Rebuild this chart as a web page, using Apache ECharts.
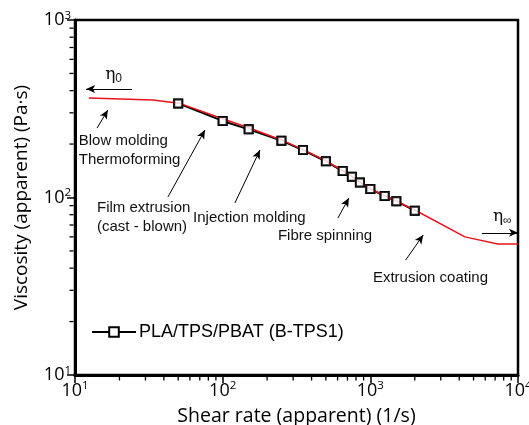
<!DOCTYPE html>
<html>
<head>
<meta charset="utf-8">
<script src="https://cdn.jsdelivr.net/npm/echarts@6/dist/echarts.min.js"></script>
<style>
html,body{margin:0;padding:0;background:#fff;}
#chart{width:529px;height:425px;}
</style>
</head>
<body>
<div id="chart"></div>
<script>
// Measured data (PLA/TPS/PBAT, B-TPS1)
const shearRate = [50, 100, 150, 250, 350, 500, 650, 750, 850, 1000, 1250, 1500, 2000];
const viscosity = [339, 270, 242, 209, 185, 160, 141, 131, 121.5, 111.6, 102, 95.3, 84.3];
// Model fit curve (red)
const fitRate = [12.4, 33.7, 50.6, 100, 150, 250, 350, 500, 650, 750, 850, 1000, 1250, 1500, 2000, 4370, 7300, 10000];
const fitVisc = [364, 354, 340, 278, 247, 211, 186, 161, 141.5, 131.5, 122, 112, 102.5, 95.5, 85, 60, 54.7, 54.7];
// Tick values
const xMinorTicks = [20,30,40,50,60,70,80,90,200,300,400,500,600,700,800,900,2000,3000,4000,5000,6000,7000,8000,9000];
const yMinorTicks = [20,30,40,50,60,70,80,90,200,300,400,500,600,700,800,900];
const seriesName = 'PLA/TPS/PBAT (B-TPS1)';
const xTitle = 'Shear rate (apparent) (1/s)';
const yTitle = 'Viscosity (apparent) (Pa·s)';

// Annotation arrows: [fromX, fromY, toX, toY] in data units
const arrows = [
  [24.3, 408, 11.9, 408],
  [14.1, 246, 16.7, 311],
  [42.6, 100.7, 75.9, 240],
  [121, 93.1, 178.9, 185],
  [603, 76.6, 716, 99.4],
  [1734, 44.4, 2281, 61.5],
  [5695, 63.3, 10000, 63.3]
];
// Annotation texts: [x, y, text] (left-middle anchor, data units)
const notes = [
  [10.6, 208, 'Blow molding'],
  [10.6, 162.7, 'Thermoforming'],
  [14.1, 87.3, 'Film extrusion'],
  [14.1, 68.2, '(cast - blown)'],
  [63, 76.6, 'Injection molding'],
  [236.6, 60.7, 'Fibre spinning'],
  [1041, 35.2, 'Extrusion coating']
];
const etaNotes = [
  [16, 490, '0'],
  [6761, 77.6, '∞']
];

const chart = echarts.init(document.getElementById('chart'));
const axisFont = 'Open Sans';
const expLabel = {
  fontFamily: axisFont,
  color: '#000',
  formatter: v => '{b|10}{s|' + Math.round(Math.log10(v)) + '}',
  rich: {
    b: {fontSize: 18, fontFamily: axisFont, color: '#000'},
    s: {fontSize: 11.5, fontFamily: axisFont, color: '#000', padding: [0, 0, 9, 0]}
  }
};
const toPairs = (xs, ys) => xs.map((x, i) => [x, ys[i]]);
const MINOR_LEN = 4;

chart.setOption({
  animation: false,
  grid: {left: 75, right: 11, top: 20, bottom: 50, show: true, borderColor: '#000', borderWidth: 2.5,
         backgroundColor: 'transparent', containLabel: false, outerBoundsMode: 'none'},
  xAxis: {
    type: 'log', logBase: 10, min: 10, max: 10000,
    name: xTitle, nameLocation: 'middle', nameGap: 31,
    nameTextStyle: {fontFamily: axisFont, fontSize: 19.5, color: '#000'},
    axisLine: {show: true, lineStyle: {color: '#000', width: 3}},
    axisTick: {show: true, inside: false, length: 8, lineStyle: {color: '#000', width: 1.5}},
    axisLabel: Object.assign({margin: 5}, expLabel),
    splitLine: {show: false}
  },
  yAxis: {
    type: 'log', logBase: 10, min: 10, max: 1000,
    name: yTitle, nameLocation: 'middle', nameGap: 44, nameRotate: 90,
    nameTextStyle: {fontFamily: axisFont, fontSize: 19, color: '#000'},
    axisLine: {show: true, lineStyle: {color: '#000', width: 3}},
    axisTick: {show: true, inside: false, length: 8, lineStyle: {color: '#000', width: 1.5}},
    axisLabel: Object.assign({margin: 4}, expLabel),
    splitLine: {show: false}
  },
  legend: {
    data: [seriesName], left: 86, top: 318, itemWidth: 44, itemHeight: 12, itemGap: 4,
    textStyle: {fontFamily: 'Liberation Sans', fontSize: 18, color: '#000', padding: [0,0,0,-2]}
  },
  series: [{
    name: seriesName, type: 'line', z: 2,
    data: toPairs(shearRate, viscosity),
    symbol: 'rect', symbolSize: 8, showSymbol: true,
    lineStyle: {color: '#000', width: 2},
    itemStyle: {color: '#fff', borderColor: '#000', borderWidth: 2},
    emphasis: {disabled: true}
  }, {
    name: 'fit', type: 'line', z: 3,
    data: toPairs(fitRate, fitVisc),
    symbol: 'none',
    lineStyle: {color: '#e8141c', width: 1.5},
    emphasis: {disabled: true},
    markLine: {
      silent: true, symbol: ['none', 'arrow'], symbolSize: [6, 9], precision: 4,
      lineStyle: {color: '#000', width: 1, type: 'solid'},
      label: {show: false},
      data: arrows.map(a => [{coord: [a[0], a[1]]}, {coord: [a[2], a[3]]}])
    }
  }, {
    name: 'points', type: 'scatter', z: 4,
    data: toPairs(shearRate, viscosity),
    symbol: 'rect', symbolSize: 8,
    itemStyle: {color: '#fff', borderColor: '#000', borderWidth: 2},
    emphasis: {disabled: true}
  }, {
    name: 'xMinor', type: 'custom', clip: false, silent: true, z: 5,
    data: xMinorTicks.map(v => [v, 10]),
    renderItem: (params, api) => {
      const p = api.coord([api.value(0), api.value(1)]);
      return {type: 'line', shape: {x1: p[0], y1: p[1] + 1.5, x2: p[0], y2: p[1] + 1.5 + MINOR_LEN},
        style: {stroke: '#000', lineWidth: 1.3}};
    }
  }, {
    name: 'yMinor', type: 'custom', clip: false, silent: true, z: 5,
    data: yMinorTicks.map(v => [10, v]),
    renderItem: (params, api) => {
      const p = api.coord([api.value(0), api.value(1)]);
      return {type: 'line', shape: {x1: p[0] - 1.5, y1: p[1], x2: p[0] - 1.5 - MINOR_LEN, y2: p[1]},
        style: {stroke: '#000', lineWidth: 1.3}};
    }
  }]
});

const graphics = [];
notes.forEach(n => {
  const p = chart.convertToPixel({gridIndex: 0}, [n[0], n[1]]);
  graphics.push({type: 'text', x: p[0], y: p[1], z: 10,
    style: {text: n[2], fontFamily: 'Liberation Sans', fontSize: 15, fill: '#111', textVerticalAlign: 'middle', textAlign: 'left'}});
});
etaNotes.forEach(n => {
  const p = chart.convertToPixel({gridIndex: 0}, [n[0], n[1]]);
  graphics.push({type: 'text', x: p[0], y: p[1], z: 10,
    style: {text: '{a|η}{s|' + n[2] + '}', textVerticalAlign: 'middle', textAlign: 'left',
      rich: {a: {fontFamily: 'DejaVu Serif', fontSize: 17, fill: '#111'},
             s: {fontFamily: 'Liberation Sans', fontSize: 12, fill: '#111', padding: [8, 0, 0, 0]}}}});
});
chart.setOption({graphic: graphics});
</script>
</body>
</html>
